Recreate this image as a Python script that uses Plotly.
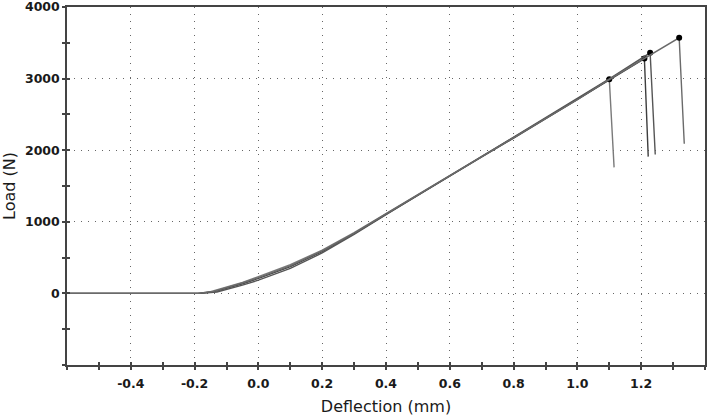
import plotly.graph_objects as go

# deflection (mm) / load (N) for the four specimens
defl_a = [-0.6, -0.19, -0.15, -0.1, -0.05, 0.0, 0.05, 0.1, 0.2, 0.3, 0.4, 0.5, 0.6, 0.7, 0.8, 0.9, 1.0, 1.10, 1.115]
load_a = [0, 0, 25, 85, 155, 235, 315, 400, 605, 850, 1115, 1380, 1645, 1910, 2175, 2440, 2710, 2990, 1760]

defl_b = [-0.6, -0.185, -0.14, -0.1, -0.05, 0.0, 0.05, 0.1, 0.2, 0.3, 0.4, 0.5, 0.6, 0.7, 0.8, 0.9, 1.0, 1.1, 1.21, 1.222]
load_b = [0, 0, 22, 70, 135, 210, 290, 375, 585, 835, 1105, 1375, 1640, 1905, 2170, 2440, 2710, 2985, 3280, 1910]

defl_c = [-0.6, -0.18, -0.13, -0.1, -0.05, 0.0, 0.05, 0.1, 0.2, 0.3, 0.4, 0.5, 0.6, 0.7, 0.8, 0.9, 1.0, 1.1, 1.228, 1.244]
load_c = [0, 0, 20, 55, 115, 185, 265, 350, 565, 825, 1100, 1370, 1640, 1910, 2180, 2450, 2720, 2995, 3360, 1940]

defl_d = [-0.6, -0.19, -0.14, -0.1, -0.05, 0.0, 0.05, 0.1, 0.2, 0.3, 0.4, 0.5, 0.6, 0.7, 0.8, 0.9, 1.0, 1.1, 1.2, 1.319, 1.335]
load_d = [0, 0, 28, 78, 145, 220, 300, 385, 595, 840, 1110, 1375, 1640, 1905, 2170, 2440, 2705, 2990, 3255, 3570, 2090]

curves = [(defl_a, load_a, '#7a7a7a'), (defl_b, load_b, '#3e3e3e'),
          (defl_c, load_c, '#555555'), (defl_d, load_d, '#6a6a6a')]

x_ticks = [-0.6, -0.4, -0.2, 0.0, 0.2, 0.4, 0.6, 0.8, 1.0, 1.2, 1.4]
x_text = ['', '-0.4', '-0.2', '0.0', '0.2', '0.4', '0.6', '0.8', '1.0', '1.2', '']
y_ticks = [-1000, 0, 1000, 2000, 3000, 4000]
y_text = ['', '0', '1000', '2000', '3000', '4000']

fig = go.Figure()
for dx, ld, col in curves:
    fig.add_trace(go.Scatter(x=dx, y=ld, mode='lines', line=dict(color=col, width=1.4),
                             showlegend=False, hoverinfo='skip'))
    # failure point = second to last sample
    fig.add_trace(go.Scatter(x=[dx[-2]], y=[ld[-2]], mode='markers',
                             marker=dict(color='black', size=6), showlegend=False))

# dummy trace so the overlay axes (inner half of the crossing ticks) get drawn
fig.add_trace(go.Scatter(x=[None], y=[None], xaxis='x2', yaxis='y2', showlegend=False))

axfont = dict(family='DejaVu Sans', size=12.5, color='#1a1a1a', weight='bold')
titlefont = dict(family='DejaVu Sans', size=16, color='#1a1a1a')
common = dict(showline=True, linecolor='#444444', linewidth=1.5, mirror=True,
              ticks='outside', ticklen=3, tickcolor='#444444', tickwidth=1.5,
              showgrid=True, gridcolor='#666666', gridwidth=1, griddash='1px,6px',
              zeroline=False, tickfont=axfont, ticklabeloverflow='allow', automargin=False)

fig.update_layout(
    width=708, height=416, margin=dict(l=67, r=3, t=7, b=51),
    plot_bgcolor='white', paper_bgcolor='white',
    xaxis=dict(range=[-0.6, 1.4], tickmode='array', tickvals=x_ticks, ticktext=x_text,
               minor=dict(dtick=0.1, tick0=0, ticks='outside', ticklen=3, tickcolor='#444444', showgrid=False),
               title=dict(text='Deflection (mm)', font=titlefont, standoff=12),
               ticklabelstandoff=3, **common),
    yaxis=dict(range=[-1000, 4000], tickmode='array', tickvals=y_ticks, ticktext=y_text,
               minor=dict(dtick=500, tick0=0, ticks='outside', ticklen=3, tickcolor='#444444', showgrid=False),
               title=dict(text='Load (N)', font=titlefont, standoff=8),
               **common),
    xaxis2=dict(range=[-0.6, 1.4], overlaying='x', side='bottom', showgrid=False, zeroline=False,
                showticklabels=False, ticks='inside', ticklen=3, tickcolor='#444444', tickwidth=1.5,
                dtick=0.1, tick0=0),
    yaxis2=dict(range=[-1000, 4000], overlaying='y', side='left', showgrid=False, zeroline=False,
                showticklabels=False, ticks='inside', ticklen=3, tickcolor='#444444', tickwidth=1.5,
                dtick=500, tick0=0),
)

fig.write_html("out.html", config={'displayModeBar': False},
               post_script="document.body.style.margin='0';")
